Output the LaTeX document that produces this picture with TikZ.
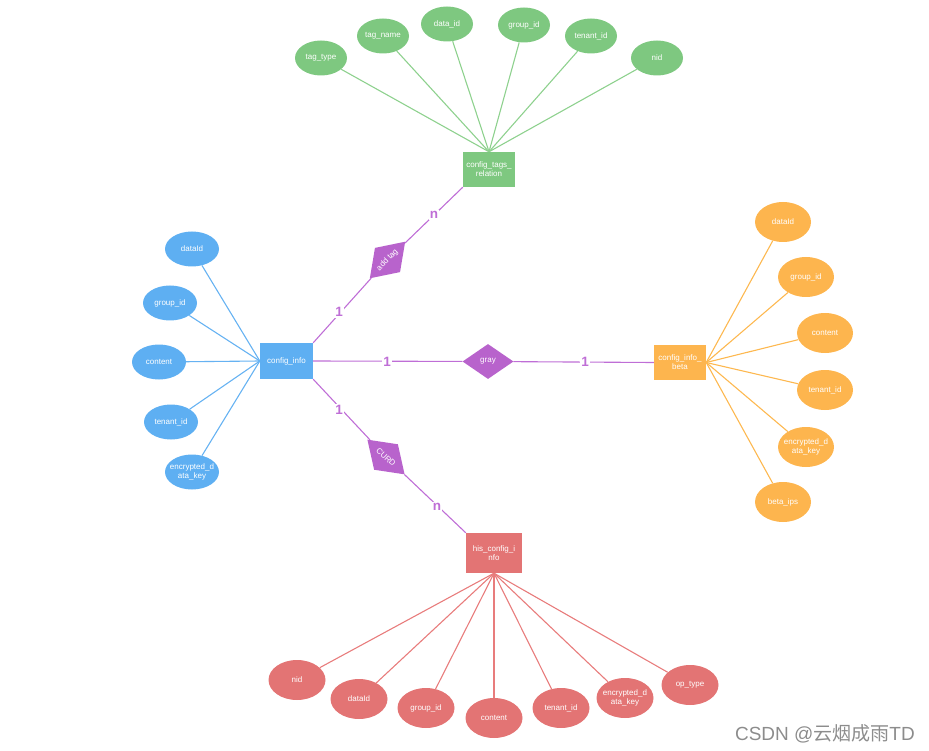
\documentclass[tikz,border=0pt]{standalone}
\usepackage{fontspec}
\setmainfont{Liberation Sans}
\newfontfamily\cjkfont{Noto Sans CJK SC}
\usetikzlibrary{shapes.geometric,backgrounds}
\definecolor{gfill}{HTML}{7EC880}
\definecolor{gline}{HTML}{8ED18E}
\definecolor{bfill}{HTML}{5EAFF2}
\definecolor{bline}{HTML}{66B2F2}
\definecolor{ofill}{HTML}{FDB54E}
\definecolor{oline}{HTML}{FDB850}
\definecolor{rfill}{HTML}{E37474}
\definecolor{rline}{HTML}{E87C7C}
\definecolor{pfill}{HTML}{B863CC}
\definecolor{pline}{HTML}{BF6ED6}
\definecolor{wmgray}{HTML}{8C8C8C}
\begin{document}
\begin{tikzpicture}[x=1pt,y=-1pt,
  small/.style={font=\fontsize{8}{9}\selectfont},
  attr/.style={ellipse, fill=#1, text=white, small, inner xsep=-5pt, inner ysep=0pt, align=center},
  gattr/.style={attr=gfill, minimum width=52pt, minimum height=35pt},
  battr/.style={attr=bfill, minimum width=54pt, minimum height=35pt},
  oattr/.style={attr=ofill, minimum width=56pt, minimum height=40pt},
  rattr/.style={attr=rfill, minimum width=57pt, minimum height=40pt},
  ent/.style={rectangle, fill=#1, text=white, small, inner sep=0pt, align=center},
  rel/.style={diamond, fill=pfill, text=white, small, inner sep=0pt, minimum width=51pt, minimum height=35pt},
  card/.style={text=pline, font=\bfseries\fontsize{13.5}{13.5}\selectfont, fill=white, inner sep=1pt},
  gl/.style={draw=gline, line width=1.1pt},
  bl/.style={draw=bline, line width=1.1pt},
  ol/.style={draw=oline, line width=1.1pt},
  rl/.style={draw=rline, line width=1.1pt},
  pl/.style={draw=pline, line width=1.1pt}
]
\useasboundingbox (0,0) rectangle (929,751);

% entities
\node[ent=gfill, minimum width=52pt, minimum height=35pt] (ctr) at (489,169.5) {config\_tags\_\\relation};
\node[ent=bfill, minimum width=53pt, minimum height=36pt] (ci) at (286.5,361) {config\_info};
\node[ent=ofill, minimum width=52pt, minimum height=35pt] (cib) at (680,362.5) {config\_info\_\\beta};
\node[ent=rfill, minimum width=56pt, minimum height=40pt] (hci) at (494,553) {his\_config\_i\\nfo};

% relations
\node[rel, rotate=46] (addtag) at (387.5,260) {add tag};
\node[rel] (gray) at (488,361.5) {gray};
\node[rel, rotate=-43] (curd) at (386,457) {CURD};

% green attributes
\node[gattr] (g1) at (321,58) {tag\_type};
\node[gattr] (g2) at (383,36) {tag\_name};
\node[gattr] (g3) at (447,24) {data\_id};
\node[gattr] (g4) at (524,25) {group\_id};
\node[gattr] (g5) at (591,36) {tenant\_id};
\node[gattr] (g6) at (657,58) {nid};

% blue attributes
\node[battr] (b1) at (192,249) {dataId};
\node[battr] (b2) at (170,303) {group\_id};
\node[battr] (b3) at (159,362) {content};
\node[battr] (b4) at (171,422) {tenant\_id};
\node[battr] (b5) at (192,472) {encrypted\_d\\ata\_key};

% orange attributes
\node[oattr] (o1) at (783,222) {dataId};
\node[oattr] (o2) at (806,277) {group\_id};
\node[oattr] (o3) at (825,333) {content};
\node[oattr] (o4) at (825,390) {tenant\_id};
\node[oattr] (o5) at (806,447) {encrypted\_d\\ata\_key};
\node[oattr] (o6) at (783,502) {beta\_ips};

% red attributes
\node[rattr] (r1) at (297,680) {nid};
\node[rattr] (r2) at (359,699) {dataId};
\node[rattr] (r3) at (426,708) {group\_id};
\node[rattr] (r4) at (494,718) {content};
\node[rattr] (r5) at (561,708) {tenant\_id};
\node[rattr] (r6) at (625,698) {encrypted\_d\\ata\_key};
\node[rattr] (r7) at (690,685) {op\_type};

% cardinalities
\node[card] (c1) at (339,312) {1};
\node[card] (c2) at (434,215) {n};
\node[card] (c3) at (387,362) {1};
\node[card] (c4) at (585,362) {1};
\node[card] (c5) at (339,410) {1};
\node[card] (c6) at (437,507) {n};

% watermark
\node[anchor=east, text=wmgray, inner sep=0pt, font=\fontsize{19}{19}\selectfont] (wm) at (915,734) {CSDN @{\cjkfont 云烟成雨}TD};

\begin{scope}[on background layer]
  \foreach \n in {g1,g2,g3,g4,g5,g6} \draw[gl] (\n) -- (ctr.north);
  \foreach \n in {b1,b2,b3,b4,b5} \draw[bl] (\n) -- (ci.west);
  \foreach \n in {o1,o2,o3,o4,o5,o6} \draw[ol] (\n) -- (cib.east);
  \foreach \n in {r1,r2,r3,r4,r5,r6,r7} \draw[rl] (\n) -- (hci.south);
  \draw[pl] (ci.north east) -- (addtag) -- (ctr.south west);
  \draw[pl] (ci.east) -- (gray) -- (cib.west);
  \draw[pl] (ci.south east) -- (curd) -- (hci.north west);
\end{scope}
\end{tikzpicture}
\end{document}
